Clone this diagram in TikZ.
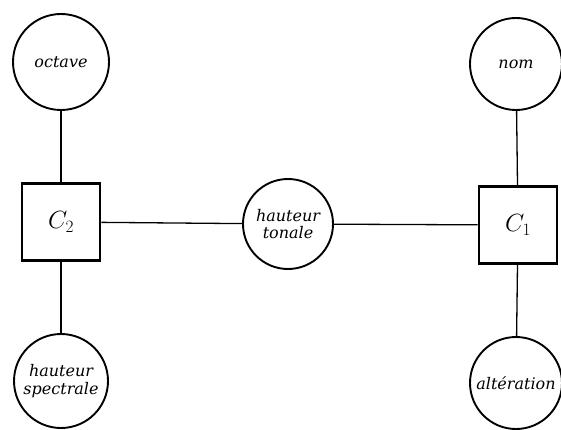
\documentclass[tikz,border=0pt]{standalone}
\usepackage{fontspec}
\newfontfamily\lblfont{DejaVu Serif}
\begin{document}
\begin{tikzpicture}[x=1pt,y=-1pt,
  ent/.style={circle,draw,line width=1.9pt,inner sep=0pt,align=center,font=\lblfont\itshape\fontsize{16}{17.5}\selectfont},
  rel/.style={rectangle,draw,line width=2.6pt,minimum width=78pt,minimum height=77pt,font=\fontsize{24}{24}\selectfont},
  conn/.style={line width=1.3pt}]
\useasboundingbox (0,0) rectangle (561,430);
\node[ent,minimum size=96pt] (oct) at (61,62) {octave};
\node[ent,minimum size=92pt] (nom) at (516,64) {nom};
\node[rel] (c2) at (61,222) {$C_2$};
\node[ent,minimum size=90pt] (ht) at (288,224) {hauteur\\tonale};
\node[rel] (c1) at (518,225) {$C_1$};
\node[ent,minimum size=94pt] (hs) at (61,381) {hauteur\\spectrale};
\node[ent,minimum size=92pt] (alt) at (516,383) {altération};
\draw[conn] (oct) -- (c2);
\draw[conn] (c2) -- (hs);
\draw[conn] (nom) -- (c1);
\draw[conn] (c1) -- (alt);
\draw[conn] (c2) -- (ht);
\draw[conn] (ht) -- (c1);
\end{tikzpicture}
\end{document}
